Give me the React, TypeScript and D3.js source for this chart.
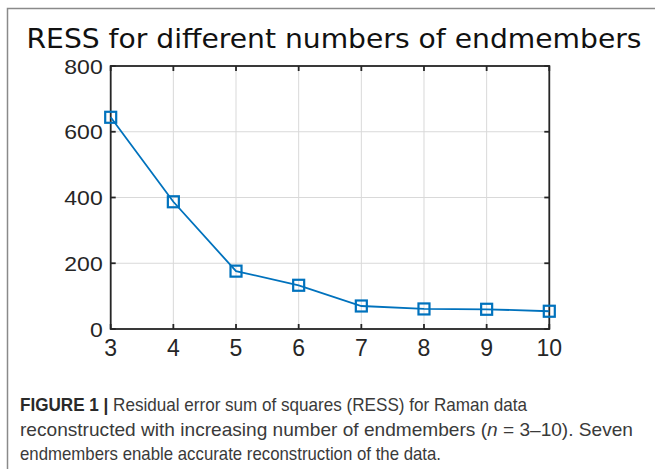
import React from "react";
import * as d3 from "d3";

// Number of endmembers and the residual error sum of squares for each
const endmembers = [3, 4, 5, 6, 7, 8, 9, 10];
const ress = [644, 387, 176, 133, 70, 61, 60, 54];
const yTicks = [0, 200, 400, 600, 800];

const title = "RESS for different numbers of endmembers";
const captionLead = "FIGURE 1 |";
const captionLine1 = " Residual error sum of squares (RESS) for Raman data";
const captionLine2a = "reconstructed with increasing number of endmembers (";
const captionLine2n = "n";
const captionLine2b = " = 3\u201310). Seven";
const captionLine3 = "endmembers enable accurate reconstruction of the data.";

const W = 655;
const H = 469;
const plot = { left: 110.7, right: 549.3, top: 66, bottom: 329 };
const blue = "#0072BD";
const axisColor = "#262626";

export default function App() {
  const x = d3.scaleLinear().domain([3, 10]).range([plot.left, plot.right]);
  const y = d3.scaleLinear().domain([0, 800]).range([plot.bottom, plot.top]);
  const line = d3
    .line<number>()
    .x((_, i) => x(endmembers[i]))
    .y((v) => y(v));
  const tick = 5;
  const m = 5.5; // half marker size

  return (
    <div style={{ position: "fixed", left: 0, top: 0, width: W, height: H, background: "#fff" }}>
      <svg width={W} height={H} style={{ display: "block" }}>
        {/* figure frame */}
        <path d={`M7.5,${H} V8.5 H${W}`} fill="none" stroke="#8a8a8a" strokeWidth={1.5} />

        <text
          x={26.5}
          y={48}
          fontFamily="DejaVu Sans"
          fontSize={26.5}
          fill="#111"
          textLength={615}
          lengthAdjust="spacingAndGlyphs"
        >
          {title}
        </text>

        {/* grid */}
        <g stroke="#d9d9d9" strokeWidth={1}>
          {endmembers.map((v) => (
            <line key={"gx" + v} x1={x(v)} x2={x(v)} y1={plot.top} y2={plot.bottom} />
          ))}
          {yTicks.map((v) => (
            <line key={"gy" + v} x1={plot.left} x2={plot.right} y1={y(v)} y2={y(v)} />
          ))}
        </g>

        {/* axes box and ticks */}
        <g stroke={axisColor} strokeWidth={1.8} fill="none">
          <rect
            x={plot.left}
            y={plot.top}
            width={plot.right - plot.left}
            height={plot.bottom - plot.top}
          />
          {endmembers.map((v) => (
            <g key={"tx" + v}>
              <line x1={x(v)} x2={x(v)} y1={plot.bottom} y2={plot.bottom - tick} />
              <line x1={x(v)} x2={x(v)} y1={plot.top} y2={plot.top + tick} />
            </g>
          ))}
          {yTicks.map((v) => (
            <g key={"ty" + v}>
              <line x1={plot.left} x2={plot.left + tick} y1={y(v)} y2={y(v)} />
              <line x1={plot.right} x2={plot.right - tick} y1={y(v)} y2={y(v)} />
            </g>
          ))}
        </g>

        {/* tick labels */}
        <g fontFamily="Liberation Sans, Arial, sans-serif" fill={axisColor}>
          {endmembers.map((v) => (
            <text key={"lx" + v} x={x(v)} y={plot.bottom + 27} fontSize={23} textAnchor="middle">
              {v}
            </text>
          ))}
          {yTicks.map((v) => (
            <text
              key={"ly" + v}
              transform={`translate(${plot.left - 8},${y(v) + 7.5}) scale(1.15,1)`}
              fontSize={20}
              textAnchor="end"
            >
              {v}
            </text>
          ))}
        </g>

        {/* series */}
        <path d={line(ress) ?? ""} fill="none" stroke={blue} strokeWidth={1.8} />
        <g fill="none" stroke={blue} strokeWidth={2.2}>
          {ress.map((v, i) => (
            <rect key={"mk" + i} x={x(endmembers[i]) - m} y={y(v) - m} width={2 * m} height={2 * m} />
          ))}
        </g>

        {/* caption */}
        <g fontFamily="Liberation Sans, Arial, sans-serif" fontSize={18.5} fill="#3a3a3a">
          <text x={20} y={411} textLength={507} lengthAdjust="spacingAndGlyphs">
            <tspan fontWeight="bold" fill="#2a2a2a">{captionLead}</tspan>
            <tspan>{captionLine1}</tspan>
          </text>
          <text x={20} y={436} textLength={613} lengthAdjust="spacingAndGlyphs">
            {captionLine2a}
            <tspan fontStyle="italic">{captionLine2n}</tspan>
            {captionLine2b}
          </text>
          <text x={20} y={460} textLength={421} lengthAdjust="spacingAndGlyphs">
            {captionLine3}
          </text>
        </g>
      </svg>
    </div>
  );
}
